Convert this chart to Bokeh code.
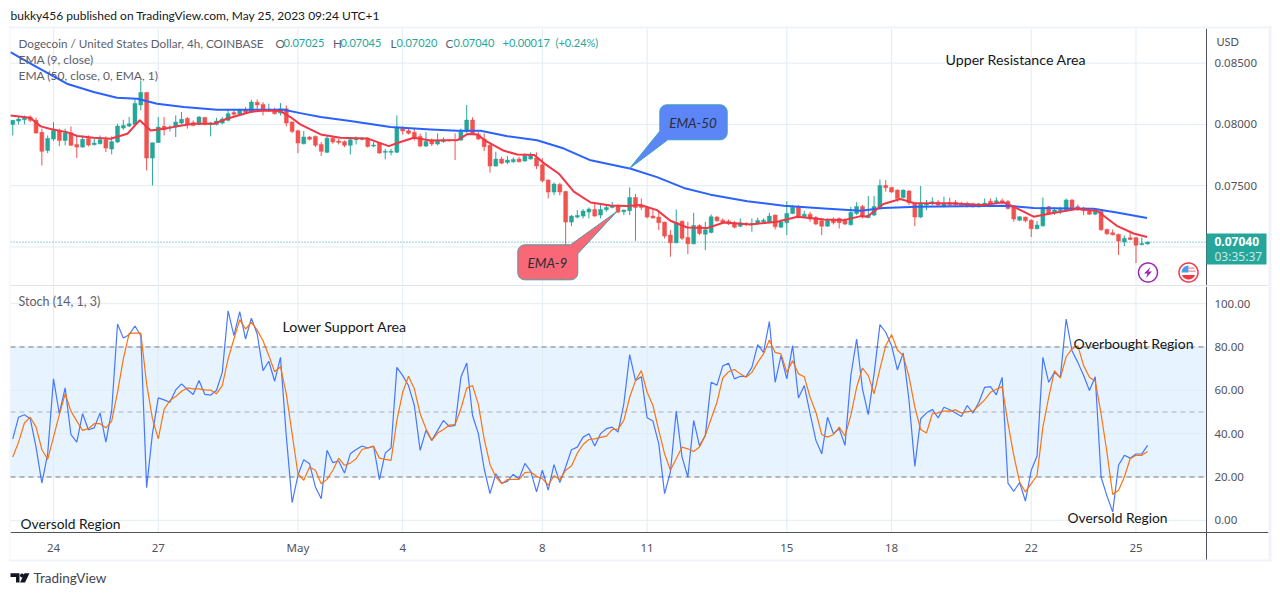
import numpy as np
from bokeh.embed import file_html
from bokeh.layouts import column
from bokeh.models import (BoxAnnotation, FixedTicker, Label, LinearAxis, PolyAnnotation,
                          PrintfTickFormatter, Range1d)
from bokeh.plotting import figure
from bokeh.resources import INLINE

# ---------- data (prices in 1/100000 USD) ----------
opens = [8000,8027,8038,8060,8033,7935,7788,
 7880,7951,7869,7932,7837,7815,7886,7834,7842,7875,
 7799,7856,7970,7986,8000,8158,8261,7725,7853,7984,
 7973,7978,8011,8049,8014,8000,8057,8000,8000,8011,
 8033,8098,8082,8120,8103,8180,8163,8114,8120,8092,
 8128,8019,7948,7842,7897,7902,7837,7772,7888,7864,
 7859,7829,7875,7878,7883,7823,7848,7772,7772,7772,
 7967,7948,7935,7902,7823,
 7872,7840,7859,7872,7872,
 7872,7940,8035,7918,7880,7829,7660,7717,7690,7695,
 7717,7701,7717,7728,7671,7546,7448,7510,7453,7203,
 7244,7252,7285,7306,7260,7304,7323,7336,7287,7296,
 7404,7334,7323,7252,7244,7203,7097,7034,7211,7078,
 7026,7176,7105,7119,7244,7219,7211,7198,7170,7192,
 7184,7195,7206,7203,7260,7162,7198,7274,7328,7247,
 7268,7241,7214,7170,7228,7233,7219,7181,7274,7331,
 7241,7260,7325,7502,7486,7464,7404,7456,7355,7244,
 7342,7361,7366,7334,7361,7366,7355,7355,7350,7328,
 7342,7374,7361,7377,7372,7336,7219,7244,7219,7149,
 7173,7328,7279,7296,7301,7383,7328,7317,7301,7268,
 7290,7143,7116,7102,7040,7075,7075,7018,7025]
closes = [8033,8044,8054,8033,7929,7780,7886,
 7951,7869,7932,7829,7815,7878,7831,7848,7875,7807,
 7859,7986,7992,8005,8171,8261,7725,7850,7978,7956,
 7978,8019,8041,8000,7992,8060,8000,8011,8027,8044,
 8087,8082,8120,8098,8182,8158,8109,8125,8087,8128,
 8011,7943,7848,7897,7878,7829,7780,7888,7856,7853,
 7829,7875,7883,7883,7820,7831,7766,7780,7780,7978,
 7946,7927,7891,7823,7861,
 7840,7867,7872,7867,7867,
 7940,8035,7918,7880,7818,7660,7717,7684,7709,7714,
 7695,7744,7744,7660,7540,7448,7513,7448,7203,7252,
 7257,7293,7309,7252,7306,7323,7336,7285,7301,7404,
 7323,7323,7244,7236,7198,7089,7034,7200,7072,7026,
 7176,7111,7140,7247,7214,7200,7189,7162,7198,7184,
 7192,7217,7219,7252,7165,7203,7274,7325,7247,7268,
 7228,7187,7170,7219,7198,7198,7187,7282,7331,7247,
 7260,7331,7502,7483,7448,7396,7464,7361,7244,7353,
 7355,7369,7342,7355,7344,7344,7342,7336,7328,7350,
 7358,7350,7377,7361,7315,7228,7247,7214,7149,7179,
 7323,7274,7301,7306,7383,7323,7306,7296,7268,7296,
 7140,7108,7100,7048,7070,7062,7015,7029,7040]
highs = [8033,8060,8073,8073,8054,7965,7910,
 8019,7965,7965,7984,7910,7910,7910,7883,7910,7902,
 7902,8005,8038,8060,8209,8359,8261,7850,8060,8060,
 7992,8073,8101,8060,8033,8068,8060,8019,8054,8060,
 8122,8128,8128,8141,8201,8204,8182,8169,8136,8174,
 8155,8027,7956,7946,7905,7910,7856,7910,7902,7883,
 7869,7897,7902,7897,7897,7856,7856,7801,7801,8073,
 7984,7965,7965,7924,7937,
 7886,7927,7894,7878,7927,
 7967,8158,8057,7940,7927,7845,7777,7736,7742,7731,
 7736,7763,7772,7772,7723,7551,7527,7524,7459,7260,
 7301,7309,7323,7355,7342,7342,7369,7347,7306,7486,
 7432,7396,7334,7315,7287,7206,7138,7306,7214,7206,
 7279,7184,7206,7266,7252,7233,7225,7211,7233,7203,
 7233,7241,7233,7279,7266,7225,7372,7342,7342,7296,
 7287,7252,7233,7233,7241,7241,7233,7328,7366,7342,
 7415,7415,7551,7546,7491,7470,7470,7464,7361,7497,
 7383,7404,7383,7410,7402,7383,7369,7369,7361,7361,
 7396,7396,7404,7396,7383,7342,7252,7247,7225,7211,
 7404,7336,7323,7328,7396,7391,7347,7328,7315,7315,
 7296,7151,7143,7110,7094,7124,7083,7078,7045]
lows = [7910,8000,8000,8019,7924,7665,7766,
 7864,7823,7829,7823,7725,7810,7820,7829,7837,7774,
 7755,7848,7956,7978,7992,8114,7625,7502,7848,7910,
 7943,7897,8000,7965,7984,7992,7992,7902,7992,8000,
 8024,8060,8071,8087,8092,8114,8073,8101,8082,8073,
 7984,7929,7766,7837,7869,7815,7742,7766,7842,7837,
 7815,7755,7837,7869,7810,7815,7761,7714,7747,7766,
 7918,7918,7869,7815,7815,
 7823,7829,7850,7859,7709,
 7864,7932,7913,7872,7782,7606,7655,7676,7676,7687,
 7690,7695,7714,7636,7527,7396,7423,7421,7015,7170,
 7233,7233,7233,7247,7233,7287,7315,7274,7260,7260,
 7051,7301,7233,7233,7138,7070,6920,7029,7056,6942,
 7021,7097,6975,7111,7206,7192,7179,7151,7160,7170,
 7124,7184,7192,7192,7143,7154,7097,7268,7233,7241,
 7206,7179,7097,7165,7184,7151,7179,7176,7260,7233,
 7233,7252,7320,7451,7442,7369,7396,7342,7170,7236,
 7301,7342,7328,7323,7334,7328,7328,7323,7323,7323,
 7328,7336,7350,7350,7306,7206,7211,7200,7081,7143,
 7165,7260,7263,7268,7287,7315,7296,7260,7260,7260,
 7132,7097,7094,6934,7007,7056,6869,7015,7020]

ema9_bar = [-7.4,-4,-2.2,-0.5,2.3,4.1,6.9,9.8,12.7,14.8,16.7,19,21.2,24.1,27.5,29.8,33.8,36.1,39,40.7,
 42.4,45.9,49.3,53.9,57.6,59.6,61.9,64.8,69.4,71.1,72.8,74.5,77.4,79.7,82.6,84.3,86.9,89.4,92.3,95.7,
 98.6,100.9,103.7,106,108.9,112.3,115.2,119.8,124.4,127.8,132.4,135.8,138.7,139.8,142.6,145.5,147.8,
 154.1,159.8,163.2,165,168.4,171.3,175.8,179.3,182.7,185.6,187.9]
ema9_val = [8073,8054,7984,7962,7937,7905,7891,7883,7924,8033,7951,7965,7984,8005,8005,8046,8101,8114,8109,8060,
 8000,7918,7891,7886,7823,7856,7891,7869,7872,7921,7918,7859,7785,7755,7750,7682,7595,7451,7363,7339,
 7334,7342,7301,7214,7159,7154,7200,7184,7206,7247,7225,7219,7252,7247,7351,7392,7359,
 7356,7342,7364,7329,7247,7274,7310,7296,7173,7110,7082]
ema50_bar = [-7.4,-3.4,2.3,6.9,10.9,14.4,17.8,22.4,28.1,33.8,39.6,42.4,45.9,51,57.9,64.8,69.4,73.4,78,83.1,
 87.7,92.3,99.2,103.7,108.3,112.9,119.2,125.5,132.4,138.7,142.6,148.4,163.8,168.4,178.7,182.7,187.9]
ema50_val = [8590,8481,8332,8264,8218,8209,8169,8141,8120,8120,8120,8092,8060,8027,7978,7959,7948,7948,7904,7871,
 7803,7707,7638,7570,7482,7427,7373,7337,7315,7296,7318,7329,7337,7318,7312,7282,7236]

stoch_k = [37.6,47.6,48.7,46.9,33.8,17.2,30.7,
 65.3,49.2,61.1,39.5,36.1,49.2,41.8,42.7,49.6,36.1,
 50.7,90.6,84.1,85.7,89.7,85.2,15.1,40,56.5,55.6,
 54.5,60.2,63,60.4,58.1,64.5,58.1,57.8,59.9,68.3,
 96.7,85.2,96.3,83.7,93.3,86,69.1,73.4,64.2,75.2,
 38.9,8.2,20.8,28,26.1,15.4,10,32.3,26.6,27.4,
 21.8,30.7,32.7,34.3,33.4,34.3,18.8,31,33.4,70.6,
 66.8,62.2,53,32.3,41.5,
 36.9,41.5,46.1,43.3,43.8,
 66,72.6,48.4,40,23.8,12.3,21.5,17.2,18,21.2,
 19.2,26.3,22.6,13.1,23.1,13.9,25.7,17.4,24.6,32.6,
 33.8,38.4,40,34.3,40,42.3,43,40.7,53.8,76.5,
 64.5,66.3,47.3,45.8,35.3,12.3,22.3,50.4,29.2,20,
 46.1,34.4,39.2,63.7,62.4,71.3,72.5,65.3,66.5,66.3,
 70.6,81.1,77.5,91.7,63.7,76,65.3,80.6,56.5,62.2,
 49.2,36.9,30.7,47.6,40,42.3,34.6,66.8,83.7,60.7,
 48.8,67.6,90.3,86.8,80.6,69.4,77.2,55.3,24.9,46.9,
 49.6,51.2,47.3,52.2,51,49.5,47.9,53,49.5,54.5,
 61.4,61.7,57.9,66,17.2,13.4,17.4,8.9,23.1,29.7,
 75.2,63.7,68.3,66,92.9,78.3,72.9,66.8,59.9,66.3,
 20,11.3,3.9,25.4,30,28.7,30.6,30.7,34.6]
stoch_d = [29.2,36.1,44.9,47.6,43,32.7,28.1,
 38.4,48.8,58.4,50.4,45.8,41.5,42.3,44.6,44.6,42.7,
 45.8,59.1,74.5,86.3,86.4,86.4,63,46.9,37.6,51.2,
 55.3,57.1,59.6,61.1,60.7,60.7,60.2,60.1,58.4,62.2,
 74.5,83.7,92.6,88.3,91.4,87.8,82.9,76,68.6,70.9,
 58.4,40,21.5,18.5,24.6,23.1,16.9,18.9,23.1,28.7,
 25.4,26.4,28.4,32.7,33.4,34.1,28.7,28.1,27.7,46.1,
 59.1,66.5,60.7,49.2,42.3,
 36.9,40.3,41.9,43.9,44.2,
 51.5,61,62.2,53.5,37.6,25.8,20,16.9,18.8,18.9,
 18.9,22,22.3,20.3,19.2,16.2,20.6,18.8,23.1,25.1,
 31,35,37.3,37.6,38.3,38.9,41.9,42.1,46.1,56.8,
 64.5,69.1,59.1,53,41.5,30.7,23.1,28.4,33.8,33,
 31.8,33.8,39.2,46.9,54.5,65.7,68.6,69.6,67.6,66,
 68.3,72.9,76.8,83.2,77.5,76.8,68.3,73.7,67.6,66.3,
 56.8,49.9,39.6,38.4,39.5,43,38.9,48.4,61.4,70.3,
 66.8,58.4,69.9,80.6,85.7,78.6,76,66.3,52.2,41.9,
 40.3,49.2,49.6,50.4,50.4,51,49.5,50.2,50.4,53,
 55.6,59.1,60.5,61.7,44.9,30,17.7,13.1,16.9,20.8,
 43,56.8,69.1,65.7,75.5,79.1,80.6,71.4,66,64.2,
 49.2,31.5,11.9,13.9,20,28.4,30,30,31.8]

date_ticks = [0, 18, 42, 60, 84, 102, 126, 144, 168, 186]
date_labels = ["24", "27", "May", "4", "8", "11", "15", "18", "22", "25"]
price_grid = [0.07, 0.075, 0.08, 0.085]
price_labels = [0.075, 0.08, 0.085]
stoch_ticks = [0, 20, 40, 60, 80, 100]
last_price = 0.0704

FONT = "Lato"
NUM = "Noto Sans"
UP, DOWN = "#26a69a", "#ef5350"
GRID = "#e1ecf2"
AXIS = "#50535e"
TXT = "#131722"
LEG = "#5d606b"

bars = np.arange(-7, -7 + len(opens))
o, h, l, c = [np.array(a) / 1e5 for a in (opens, highs, lows, closes)]
colors = [UP if cl >= op else DOWN for op, cl in zip(o, c)]

W, TOP_H, BOT_H = 1275, 286, 304
# whole canvas is the frame: ranges are set so that the pane edges land where they should
XL, XR = -9.107, 209.97
X0, X1, X_END = -7.39, 198.1, 208.8
P_LOW, P_HIGH, P_PANE_LOW, P_PANE_HIGH = 0.066778, 0.090106, 0.06682, 0.0878
S_LOW, S_HIGH, S_PANE_LOW, S_AXIS_END = -32.39, 107.92, -5.85, -18.4


def make_fig(height, y0, y1, x_range=None):
    fig = figure(width=W, height=height, output_backend="svg", toolbar_location=None,
                 x_range=x_range or Range1d(XL, XR), y_range=Range1d(y0, y1),
                 x_axis_location=None, y_axis_location=None,
                 min_border=0, min_border_left=0, min_border_right=0, min_border_top=0, min_border_bottom=0)
    fig.outline_line_color = None
    fig.grid.visible = False
    fig.background_fill_color = "white"
    fig.border_fill_color = "white"
    return fig


def price_axis(fig, ticks, fmt, bounds):
    ax = LinearAxis(ticker=FixedTicker(ticks=ticks), formatter=PrintfTickFormatter(format=fmt),
                    fixed_location=X1, bounds=bounds)
    ax.axis_line_color = AXIS
    ax.major_tick_line_color = None
    ax.minor_tick_line_color = None
    ax.major_tick_out = 0
    ax.major_tick_in = 0
    ax.major_label_text_font = NUM
    ax.major_label_text_font_size = "11.5px"
    ax.major_label_text_color = AXIS
    ax.major_label_standoff = 8
    fig.add_layout(ax, "right")


def grid(fig, hticks, ylo, yhi):
    fig.segment(date_ticks, ylo, date_ticks, yhi, line_color=GRID, line_width=1)
    fig.segment(X0, hticks, X1, hticks, line_color=GRID, line_width=1)


def lab(fig, off, x, y, text, color=TXT, size="12px", style="normal", align="left", font=FONT):
    fig.add_layout(Label(x=x, y=y - off, x_units="canvas", y_units="canvas", text=text,
                         text_color=color, text_font=font, text_font_size=size,
                         text_font_style=style, text_align=align, text_baseline="middle"))


def poly(fig, off, xs, ys, fill, line=None, lw=1):
    fig.add_layout(PolyAnnotation(xs=[float(v) for v in xs], ys=[float(v) - off for v in ys],
                                  xs_units="canvas", ys_units="canvas", fill_color=fill, fill_alpha=1,
                                  line_color=line, line_width=lw, line_alpha=1 if line else 0))


def box(fig, off, left, top, right, bottom, fill):
    poly(fig, off, [left, right, right, left], [top, top, bottom, bottom], fill)


def arc(cx, cy, r, a0, a1, n=8):
    t = np.radians(np.linspace(a0, a1, n))
    return list(cx + r * np.cos(t)), list(cy + r * np.sin(t))


def circle(fig, off, cx, cy, r, fill, line=None, lw=1):
    xs, ys = arc(cx, cy, r, 0, 360, 40)
    poly(fig, off, xs, ys, fill, line, lw)


# ---------- price pane ----------
p = make_fig(TOP_H, P_LOW, P_HIGH)
grid(p, price_grid, P_PANE_LOW, P_PANE_HIGH)
price_axis(p, price_labels, "%.5f", (P_PANE_LOW, P_PANE_HIGH))

p.segment(X0, last_price, X1, last_price, line_color=UP, line_dash="1 2", line_width=1)
p.segment(bars, l, bars, h, color=colors, line_width=1)
p.vbar(bars, 0.68, np.minimum(o, c), np.maximum(o, c), fill_color=colors, line_color=colors, line_width=0.5)
p.line(ema50_bar, np.array(ema50_val) / 1e5, line_color="#2962ff", line_width=2, line_join="round")
p.line(ema9_bar, np.array(ema9_val) / 1e5, line_color="#f23645", line_width=2, line_join="round")

box(p, 0, 9, 26, 1271, 28, "#f0f3fa")
box(p, 0, 9, 26, 10, 286, "#f0f3fa")
box(p, 0, 1268, 26, 1271, 286, "#f0f3fa")
box(p, 0, 10, 284.6, 1268, 285.6, "#e0e3eb")
box(p, 0, 1206, 233, 1266, 264, UP)

lab(p, 0, 10, 14.5, "bukky456 published on TradingView.com, May 25, 2023 09:24 UTC+1")
lab(p, 0, 18, 42, "Dogecoin / United States Dollar, 4h, COINBASE", color=LEG, size="11.7px")
for x, t in ((275, "O"), (332.5, "H"), (390, "L"), (445, "C")):
    lab(p, 0, x, 42, t, color=LEG, size="11.7px")
for x, t in ((283, "0.07025"), (340, "0.07045"), (396, "0.07020"), (453, "0.07040"),
             (502, "+0.00017"), (555, "(+0.24%)")):
    lab(p, 0, x, 42, t, color=UP, size="11px")
lab(p, 0, 18, 59, "EMA (9, close)", color=LEG)
lab(p, 0, 18, 75, "EMA (50, close, 0, EMA, 1)", color=LEG)
lab(p, 0, 1216, 41, "USD", color=AXIS, size="11px")
lab(p, 0, 945, 59, "Upper Resistance Area", size="14.2px")
lab(p, 0, 1214, 241, "0.07040", color="white", style="bold", size="12px", font=NUM)
lab(p, 0, 1214, 255.5, "03:35:37", color="#c6e8e4", size="12px", font=NUM)

# callouts
xs2, ys2 = arc(719.7, 132.3, 7, 90, 0)
xs1, ys1 = arc(719.7, 111.3, 7, 0, -90)
xs3, ys3 = arc(666.3, 111.3, 7, 270, 180)
poly(p, 0, [659.3, 629, 667.3] + xs2 + xs1 + xs3, [130.7, 168, 139.3] + ys2 + ys1 + ys3,
     "#5c85f8", "#3ba3b8", 1)
lab(p, 0, 692.5, 122, "EMA-50", color="#2a2e39", size="13.5px", style="italic", align="center")

bx1, by1 = arc(524.3, 251.3, 7, 180, 270)
bx2, by2 = arc(570.3, 272.3, 7, 0, 90)
bx3, by3 = arc(524.3, 272.3, 7, 90, 180)
poly(p, 0, bx1 + [570, 616.7, 577.3] + bx2 + bx3, by1 + [244.3, 210.7, 253.3] + by2 + by3,
     "#f86876", "#4a9da8", 1)
lab(p, 0, 547, 262, "EMA-9", color="#2a2e39", size="13.5px", style="italic", align="center")

# purple bolt icon
circle(p, 0, 1147.5, 272, 9.5, "white", "#9c27b0", 1.5)
poly(p, 0, [1150, 1143.5, 1147, 1145.5, 1151.5, 1148], [266.5, 273, 273, 277.5, 271, 271], "#9c27b0")
# flag icon
circle(p, 0, 1188, 272, 9.5, "white", "#f23645", 1.5)
xs, ys = arc(1188, 272, 7, 180, 270, 8)
poly(p, 0, xs + [1188, 1188, 1181], ys + [265, 272, 272], "#4a9ee8")
xs, ys = arc(1188, 272, 7, 20, 160, 12)
poly(p, 0, xs, ys, "#f23645")
box(p, 0, 1188, 267, 1194, 268.3, "#f58a93")
box(p, 0, 1188, 270, 1195, 271.3, "#f58a93")

# ---------- stochastic pane ----------
q = make_fig(BOT_H, S_LOW, S_HIGH, x_range=p.x_range)
q.add_layout(BoxAnnotation(left=X0, right=X1, bottom=20, top=80, fill_color="#2196f3", fill_alpha=0.11,
                           line_alpha=0, level="underlay"))
grid(q, stoch_ticks, S_PANE_LOW, S_HIGH)
price_axis(q, stoch_ticks, "%.2f", (S_AXIS_END, S_HIGH))
xa = LinearAxis(ticker=FixedTicker(ticks=date_ticks), fixed_location=S_PANE_LOW, bounds=(X0, X_END))
xa.major_label_overrides = dict(zip(date_ticks, date_labels))
xa.major_tick_line_color = None
xa.minor_tick_line_color = None
xa.major_tick_out = 0
xa.major_tick_in = 0
xa.axis_line_color = AXIS
xa.major_label_text_font = NUM
xa.major_label_text_font_size = "11.5px"
xa.major_label_text_color = AXIS
xa.major_label_standoff = 7
q.add_layout(xa, "below")

q.segment(X0, [80, 20], X1, [80, 20], line_color="#787b86", line_dash="5 4", line_width=1)
q.segment(X0, 50, X1, 50, line_color="#787b86", line_dash="5 4", line_width=1, line_alpha=0.55)
q.line(bars, stoch_k, line_color="#2962ff", line_width=1.2, line_alpha=0.85)
q.line(bars, stoch_d, line_color="#ff6d00", line_width=1.2, line_alpha=0.95)

O = TOP_H
box(q, O, 9, 286, 10, 561, "#f0f3fa")
box(q, O, 1268, 286, 1271, 561, "#f0f3fa")
box(q, O, 9, 559, 1271, 561, "#f0f3fa")

lab(q, O, 18, 300.5, "Stoch (14, 1, 3)", color=LEG, size="12.5px")
lab(q, O, 282, 326, "Lower Support Area", size="14.2px")
lab(q, O, 1073, 342.5, "Overbought Region", size="14px")
lab(q, O, 1067, 516.5, "Oversold Region", size="13.8px")
lab(q, O, 20, 522.5, "Oversold Region", size="13.8px")

# TradingView mark
poly(q, O, [10, 19, 19, 15.5, 15.5, 10], [572.7, 572.7, 582, 582, 576.5, 576.5], "#131722")
circle(q, O, 21.5, 575, 2, "#131722")
poly(q, O, [24, 29, 24.5, 19.5], [572.7, 572.7, 582, 582], "#131722")
lab(q, O, 33, 577.5, "TradingView", color="#434651", size="13.5px")

open("out.html", "w").write(file_html(column(p, q, spacing=0), INLINE))
